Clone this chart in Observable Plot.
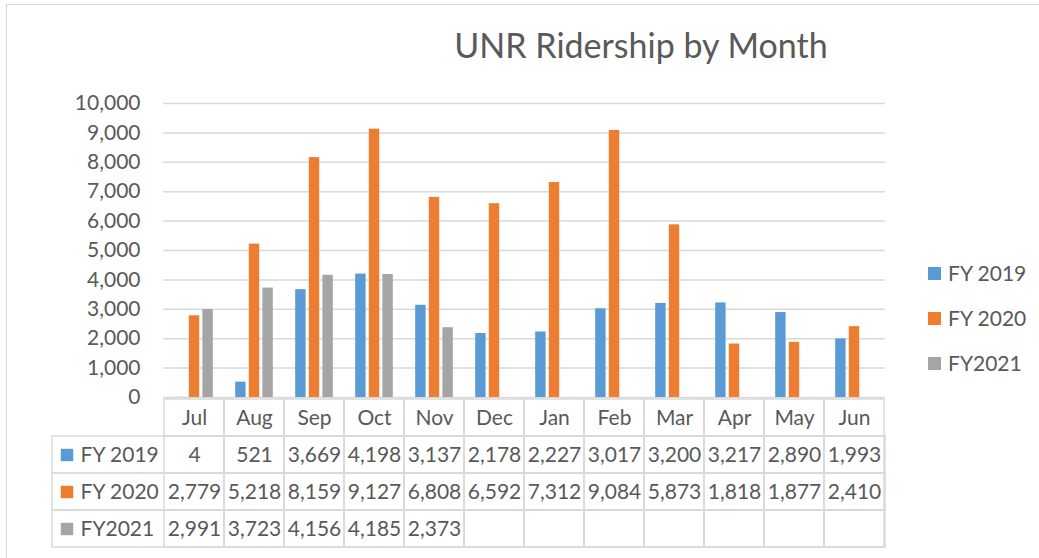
<!DOCTYPE html>
<html>
<head>
<meta charset="utf-8">
<script src="https://cdn.jsdelivr.net/npm/d3@7"></script>
<script src="https://cdn.jsdelivr.net/npm/@observablehq/plot@0.6"></script>
<style>
  body { margin: 0; background: #fff; font-family: Lato, sans-serif; color: #595959; }
  #wrap { position: relative; width: 1039px; height: 558px; overflow: hidden; background: #fff; }
  #frame { position: absolute; left: 6px; top: 4px; width: 1100px; height: 600px; border-left: 1.5px solid #d9d9d9; border-top: 1.5px solid #d9d9d9; pointer-events: none; z-index: 5; }
  #title { position: absolute; left: 253px; width: 776px; top: 25px; text-align: center; font-size: 34px; line-height: 40px; color: #595959; }
  .plotbox { position: absolute; left: 0; }
  #legend { position: absolute; left: 928px; top: 0; font-size: 21px; color: #595959; }
  #legend .item { position: absolute; left: 0; white-space: nowrap; height: 24px; line-height: 24px; }
  #legend .sw { display: inline-block; width: 13px; height: 13px; vertical-align: middle; margin-right: 7px; position: relative; top: -2px; }
</style>
</head>
<body>
<div id="wrap">
  <div id="title">UNR Ridership by Month</div>
  <div id="chart" class="plotbox" style="top:0"></div>
  <div id="table" class="plotbox" style="top:397px"></div>
  <div id="legend"></div>
  <div id="frame"></div>
</div>
<script>
const months = ["Jul","Aug","Sep","Oct","Nov","Dec","Jan","Feb","Mar","Apr","May","Jun"];
const seriesNames = ["FY 2019","FY 2020","FY2021"];
const fy2019 = [4,521,3669,4198,3137,2178,2227,3017,3200,3217,2890,1993];
const fy2020 = [2779,5218,8159,9127,6808,6592,7312,9084,5873,1818,1877,2410];
const fy2021 = [2991,3723,4156,4185,2373,null,null,null,null,null,null,null];
const seriesColors = ["#5b9bd5","#ed7d31","#a5a5a5"];
const yTicks = [0,1000,2000,3000,4000,5000,6000,7000,8000,9000,10000];

const seriesValues = [fy2019, fy2020, fy2021];
const rows = [];
seriesNames.forEach((s, si) => months.forEach((m, mi) => rows.push({series: s, si, month: m, value: seriesValues[si][mi]})));
const fmt = d3.format(",");
const font = "Lato, sans-serif";
const textColor = "#595959";
const grid = "#d9d9d9";

const barOffsets = [-13.6, 0, 13.6];
const chart = Plot.plot({
  width: 1039, height: 410,
  marginTop: 103, marginBottom: 13, marginLeft: 163, marginRight: 154,
  style: {background: "transparent", overflow: "visible", fontFamily: font, color: textColor},
  x: {domain: months, padding: 0, axis: null},
  y: {domain: [0, 10000], axis: null},
  marks: [
    Plot.gridY(yTicks, {stroke: grid, strokeOpacity: 1, strokeWidth: 1.5}),
    Plot.axisY(yTicks, {tickSize: 0, tickPadding: 23, tickFormat: fmt, fontSize: 21, fill: textColor, label: null}),
    ...seriesNames.map((s, si) => Plot.barY(rows.filter(d => d.si === si && d.value != null), {
      x: "month", y: "value", fill: seriesColors[si], insetLeft: 24.8, insetRight: 24.8, dx: barOffsets[si]
    }))
  ]
});
document.getElementById("chart").appendChild(chart);

const rowKeys = ["", ...seriesNames];
const cells = [];
rowKeys.forEach(r => months.forEach(m => cells.push({row: r, month: m})));
const tableTexts = rows.filter(d => d.value != null);
const table = Plot.plot({
  width: 1039, height: 161,
  marginTop: 0, marginBottom: 10, marginLeft: 52, marginRight: 154,
  style: {background: "transparent", overflow: "visible", fontFamily: font, color: textColor},
  x: {domain: months, range: [163, 885], padding: 0, axis: null},
  y: {domain: rowKeys, padding: 0, axis: null},
  marks: [
    Plot.cell(seriesNames, {y: d => d, fill: "none", stroke: grid, strokeWidth: 1.5}),
    Plot.cell(cells, {x: "month", y: "row", fill: "none", stroke: grid, strokeWidth: 1.5}),
    Plot.text(months, {x: d => d, y: () => "", text: d => d, fontSize: 21, fill: textColor}),
    Plot.text(tableTexts, {x: "month", y: "series", text: d => fmt(d.value), fontSize: 21, fill: textColor}),
    Plot.dot(seriesNames, {y: d => d, frameAnchor: "left", dx: 14.5, symbol: "square", r: 7, fill: (d, i) => seriesColors[i], stroke: null}),
    Plot.text(seriesNames, {y: d => d, frameAnchor: "left", dx: 28, textAnchor: "start", text: d => d, fontSize: 21, fill: textColor})
  ]
});
document.getElementById("table").appendChild(table);

const legend = document.getElementById("legend");
const legendTops = [261, 306, 351];
seriesNames.forEach((s, i) => {
  const it = document.createElement("div");
  it.className = "item";
  it.style.top = legendTops[i] + "px";
  it.innerHTML = `<span class="sw" style="background:${seriesColors[i]}"></span>${s}`;
  legend.appendChild(it);
});
</script>
</body>
</html>
